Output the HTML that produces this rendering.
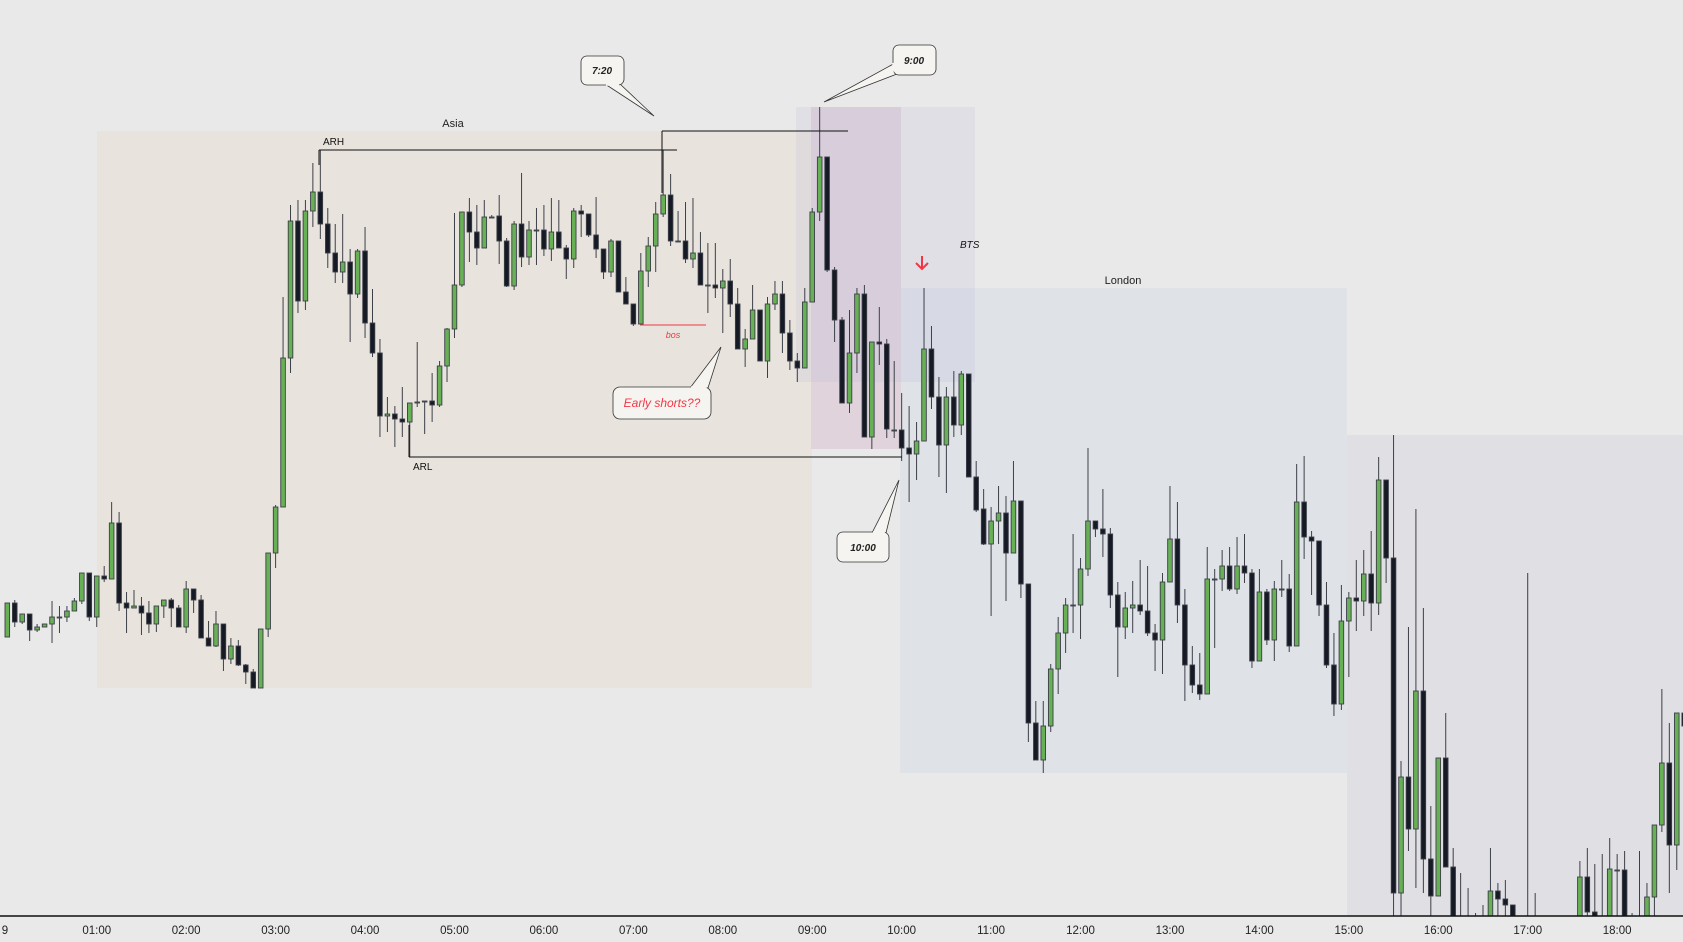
<!DOCTYPE html>
<html><head><meta charset="utf-8"><style>
html,body{margin:0;padding:0;background:#e9e9e9;}
svg{display:block;font-family:"Liberation Sans","DejaVu Sans",sans-serif;}
</style></head><body>
<svg id="chart" width="1683" height="942" viewBox="0 0 1683 942" xmlns="http://www.w3.org/2000/svg">
<defs><clipPath id="plotclip"><rect x="0" y="0" width="1683" height="916"/></clipPath></defs>
<rect x="0" y="0" width="1683" height="942" fill="#e9e9e9"/>
<rect x="97" y="131" width="715" height="557" fill="#e8e4dd"/>
<rect x="900" y="288" width="447" height="485" fill="#dfe3e7"/>
<rect x="1347" y="435" width="336" height="481" fill="#e0dfe4"/>
<rect x="811" y="107" width="90" height="342" fill="#e0d3dc"/>
<rect x="796" y="107" width="179" height="275" fill="#b8afd6" fill-opacity="0.18"/>
<text x="453" y="127" font-size="11" fill="#222" text-anchor="middle">Asia</text>
<text x="1123" y="284" font-size="11" fill="#222" text-anchor="middle">London</text>
<g id="candles" clip-path="url(#plotclip)"></g>
<line x1="319" y1="150" x2="677" y2="150" stroke="#111" stroke-width="1"/>
<line x1="319" y1="150" x2="319" y2="165" stroke="#111" stroke-width="1"/>
<text x="323" y="145" font-size="10" fill="#111">ARH</text>
<line x1="662" y1="131" x2="848" y2="131" stroke="#111" stroke-width="1"/>
<line x1="662" y1="131" x2="662" y2="193" stroke="#111" stroke-width="1"/>
<line x1="409" y1="457" x2="902" y2="457" stroke="#111" stroke-width="1"/>
<line x1="409" y1="425" x2="409" y2="457" stroke="#111" stroke-width="1"/>
<text x="413" y="470" font-size="10" fill="#111">ARL</text>
<line x1="640" y1="325" x2="706" y2="325" stroke="#f23645" stroke-width="1"/>
<text x="673" y="338" font-size="9" font-style="italic" fill="#f23645" text-anchor="middle">bos</text>
<text x="960" y="248" font-size="10" font-style="italic" fill="#111">BTS</text>
<g stroke="#f23645" stroke-width="2" fill="none">
<line x1="922" y1="256" x2="922" y2="269"/><polyline points="916,263 922,269 928,263"/></g>
<g>
<polygon points="605,84 620,84 654,116" fill="#f6f4f0" stroke="#333" stroke-width="0.8"/>
<rect x="581" y="56" width="43" height="29" rx="6" fill="#f6f4f0" stroke="#333" stroke-width="0.8"/>
<line x1="606" y1="85" x2="619" y2="85" stroke="#f6f4f0" stroke-width="1.5"/>
<text x="602" y="74" font-size="10" font-style="italic" font-weight="bold" fill="#222" text-anchor="middle">7:20</text></g>
<g>
<polygon points="897,62 897,74 824,102" fill="#f6f4f0" stroke="#333" stroke-width="0.8"/>
<rect x="893" y="45" width="43" height="30" rx="6" fill="#f6f4f0" stroke="#333" stroke-width="0.8"/>
<line x1="893" y1="63" x2="893" y2="73" stroke="#f6f4f0" stroke-width="1.5"/>
<text x="914" y="64" font-size="10" font-style="italic" font-weight="bold" fill="#222" text-anchor="middle">9:00</text></g>
<g>
<polygon points="872,533 886,533 899,480" fill="#f6f4f0" stroke="#333" stroke-width="0.8"/>
<rect x="837" y="532" width="52" height="30" rx="6" fill="#f6f4f0" stroke="#333" stroke-width="0.8"/>
<line x1="873" y1="532" x2="885" y2="532" stroke="#f6f4f0" stroke-width="1.5"/>
<text x="863" y="551" font-size="10" font-style="italic" font-weight="bold" fill="#222" text-anchor="middle">10:00</text></g>
<g>
<polygon points="690,388 708,388 721,347" fill="#f6f4f0" stroke="#333" stroke-width="0.8"/>
<rect x="613" y="387" width="98" height="32" rx="7" fill="#f6f4f0" stroke="#333" stroke-width="0.8"/>
<line x1="691" y1="387" x2="707" y2="387" stroke="#f6f4f0" stroke-width="1.5"/>
<text x="662" y="407" font-size="12" font-style="italic" fill="#f23645" text-anchor="middle">Early shorts??</text></g>
<line x1="0" y1="916" x2="1683" y2="916" stroke="#111" stroke-width="1.5"/>
<g id="xticks"></g>
</svg>
<script>
const opens=[363,397,378,386,370,373,376,383,383,389,399,427,383,424,421,477,397,392,394,387,376,394,400,392,373,411,400,362,354,376,341,354,335,328,312,371,447,493,642,779,699,789,808,776,747,728,738,706,749,677,647,584,586,581,578,597,599,599,595,634,671,715,788,768,752,783,784,759,714,776,743,770,770,751,768,752,741,789,786,765,751,728,759,708,696,676,729,754,786,805,759,759,741,747,715,715,712,719,696,651,661,690,639,696,706,667,639,632,698,788,843,730,680,597,647,706,563,658,656,570,570,552,546,559,651,603,555,603,575,626,523,491,456,479,487,447,499,416,277,240,274,331,367,395,395,431,479,471,466,405,373,392,395,389,367,360,418,461,395,335,315,306,421,421,434,411,434,427,339,408,360,411,411,354,498,463,459,395,335,296,379,402,399,426,397,520,442,107,223,171,309,141,104,242,133,70,60,70,70,75,109,101,95,60,70,65,60,60,60,60,60,70,123,88,70,70,130,130,70,70,70,103,175,237,155,287];
const closes=[397,378,386,370,373,376,383,383,389,399,427,383,424,421,477,397,392,394,387,376,394,400,392,373,411,400,362,354,376,341,354,335,328,312,371,447,493,642,779,699,789,808,776,747,728,738,706,749,677,647,584,586,581,578,597,598,599,595,634,671,715,788,768,752,783,783,759,714,776,743,770,770,751,768,752,741,789,786,765,751,728,759,708,696,676,729,754,786,805,759,759,741,747,715,715,712,719,696,651,661,690,639,696,706,667,639,632,698,788,843,730,680,597,647,706,563,658,656,571,570,552,546,559,651,603,555,603,575,626,523,490,456,479,487,447,499,416,277,240,274,331,367,395,395,431,479,471,466,405,373,392,395,389,367,360,418,461,395,335,315,306,421,421,434,411,434,427,339,408,360,411,411,354,498,463,459,395,335,296,379,402,399,426,397,520,442,107,223,171,309,141,104,242,133,70,60,70,75,78,109,101,95,70,55,60,70,55,55,55,55,55,123,88,70,75,131,130,70,75,75,103,175,237,155,287,274];
const highs=[397,400,386,386,376,376,399,394,394,402,427,427,424,434,498,488,408,410,403,399,394,400,402,395,419,411,405,379,389,376,362,360,336,331,371,447,495,703,795,800,800,837,850,792,776,786,751,751,773,711,661,603,594,613,597,658,599,627,639,672,787,788,802,795,800,785,805,762,779,827,779,792,795,802,800,755,792,795,786,803,751,761,759,723,696,747,763,798,850,826,789,798,802,768,757,757,731,741,712,671,715,690,703,719,719,680,647,712,792,893,843,733,683,690,712,715,658,693,661,639,607,594,578,712,674,623,613,629,629,626,539,511,493,514,504,539,499,416,299,299,336,383,402,466,442,552,479,511,472,418,408,419,440,434,376,427,514,498,411,354,347,453,431,450,453,463,466,431,431,411,419,440,426,536,544,469,459,418,367,415,408,440,450,469,543,520,565,239,373,491,392,194,242,287,152,127,112,87,95,152,117,120,95,65,427,107,70,70,70,70,70,139,152,136,146,162,146,149,87,149,117,175,311,277,287,339];
const lows=[363,373,376,359,368,373,357,367,378,389,396,379,373,418,421,389,367,392,365,367,368,382,373,373,367,387,362,354,353,329,336,334,316,312,312,363,432,493,627,687,690,773,761,732,717,717,658,702,662,643,563,568,553,563,543,593,566,578,593,618,662,713,738,735,752,782,736,713,710,733,735,735,744,739,752,721,732,763,763,742,721,723,708,696,674,676,713,728,783,754,759,737,732,715,687,702,667,683,651,633,661,639,622,690,647,630,618,632,698,779,728,658,597,587,627,563,551,635,562,562,539,498,520,559,591,523,507,563,565,523,488,455,384,456,399,447,402,258,240,227,268,306,347,367,361,424,463,443,392,323,361,367,385,364,329,326,418,377,299,307,300,306,352,409,409,406,417,332,339,355,339,403,348,354,441,405,384,332,284,290,323,369,384,369,385,417,84,84,149,112,107,84,104,133,60,50,50,50,50,60,84,84,60,40,40,50,40,40,40,40,40,60,80,60,60,60,60,60,50,60,60,84,168,107,130,240];
const tickLabels=["9","01:00","02:00","03:00","04:00","05:00","06:00","07:00","08:00","09:00","10:00","11:00","12:00","13:00","14:00","15:00","16:00","17:00","18:00"];
const tickCandles=[-0.3,12,24,36,48,60,72,84,96,108,120,132,144,156,168,180,192,204,216];
function xScale(i){return 7.3+i*7.453;}
function yScale(p){return 1000-p;}
const NS="http://www.w3.org/2000/svg";
const g=document.getElementById('candles');
for(let i=0;i<opens.length;i++){
  const o=opens[i],c=closes[i];
  const h=Math.max(highs[i],o,c),l=Math.min(lows[i],o,c);
  const x=xScale(i),up=c>=o;
  const w=document.createElementNS(NS,'line');
  w.setAttribute('x1',x);w.setAttribute('x2',x);
  w.setAttribute('y1',yScale(h));w.setAttribute('y2',yScale(l));
  w.setAttribute('stroke','#3c3f48');w.setAttribute('stroke-width','1');
  
  
  g.appendChild(w);
  const r=document.createElementNS(NS,'rect');
  const top=yScale(Math.max(o,c)),bot=yScale(Math.min(o,c));
  r.setAttribute('x',x-2.3);r.setAttribute('width',4.6);
  r.setAttribute('y',top);r.setAttribute('height',Math.max(bot-top,1));
  r.setAttribute('fill',up?'#67b056':'#161a25');
  r.setAttribute('stroke','#3c3f48');r.setAttribute('stroke-width','0.9');
  
  
  g.appendChild(r);
}
const xt=document.getElementById('xticks');
for(let k=0;k<tickLabels.length;k++){
  const t=document.createElementNS(NS,'text');
  t.setAttribute('x',k===0?5:xScale(tickCandles[k]));
  t.setAttribute('y',934);
  t.setAttribute('font-size','11.5');
  t.setAttribute('fill','#222');
  t.setAttribute('text-anchor','middle');
  
  
  t.textContent=tickLabels[k];
  xt.appendChild(t);
}
</script>
</body></html>
